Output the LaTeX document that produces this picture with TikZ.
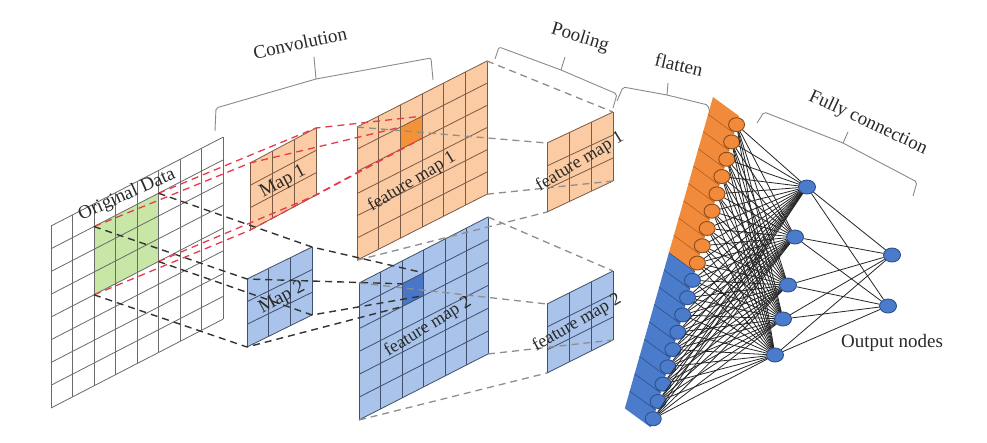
\documentclass[tikz,border=0pt]{standalone}
\usepackage{fontspec}
\setmainfont{Liberation Serif}
\usetikzlibrary{shapes.geometric}
\definecolor{oLight}{HTML}{FBCBA3}
\definecolor{oLine}{HTML}{7B5B45}
\definecolor{oDark}{HTML}{F39237}
\definecolor{bLight}{HTML}{A9C3EA}
\definecolor{bLine}{HTML}{3E506B}
\definecolor{bDark}{HTML}{4A76C8}
\definecolor{gFill}{HTML}{C8E6A6}
\definecolor{odLine}{HTML}{6A6A6A}
\definecolor{stripO}{HTML}{F28A3C}
\definecolor{stripB}{HTML}{4A7CCB}
\definecolor{stripOL}{HTML}{B0601E}
\definecolor{stripBL}{HTML}{2E4F8A}
\definecolor{redD}{HTML}{E83A4C}
\definecolor{blkD}{HTML}{333333}
\definecolor{grayD}{HTML}{8E8E8E}
\definecolor{braceC}{HTML}{8A8A8A}
\definecolor{txt}{HTML}{2A2A2A}
\definecolor{oBorder}{HTML}{8A4A1A}
\definecolor{bBorder}{HTML}{2F4F8F}
\newcommand\gridplane[9]{%
\begin{scope}[shift={#2},x={#3},y={#4}]
 \fill[#7] (0,0) -- (#5,0) -- (#5,#6) -- (0,#6) -- cycle;
 #9
 \foreach \k in {0,...,#5} \draw[#8,line width=0.8pt] (\k,0) -- (\k,#6);
 \foreach \k in {0,...,#6} \draw[#8,line width=0.8pt] (0,\k) -- (#5,\k);
 \coordinate (#1-tl) at (0,0); \coordinate (#1-tr) at (#5,0);
 \coordinate (#1-bl) at (0,#6); \coordinate (#1-br) at (#5,#6);
\end{scope}}
\begin{document}
\begin{tikzpicture}[x=1pt,y=-1pt,
  lbl/.style={text=txt,font=\fontsize{19}{22}\selectfont,inner sep=0pt},
  plbl/.style={text=txt,font=\fontsize{18}{21}\selectfont,inner sep=0pt},
  brc/.style={draw=braceC,line width=0.9pt,rounded corners=2pt},
  redd/.style={draw=redD,line width=1.3pt,dash pattern=on 7pt off 5pt},
  blkd/.style={draw=blkD,line width=1.4pt,dash pattern=on 7pt off 5pt},
  grayd/.style={draw=grayD,line width=1.3pt,dash pattern=on 7pt off 5pt},
  ocirc/.style={ellipse,minimum width=16pt,minimum height=14pt,inner sep=0pt,fill=stripO,draw=oBorder,line width=0.9pt},
  bcirc/.style={ellipse,minimum width=16pt,minimum height=14pt,inner sep=0pt,fill=stripB,draw=bBorder,line width=0.9pt},
  bnode/.style={ellipse,minimum width=17pt,minimum height=14pt,inner sep=0pt,fill=stripB,draw=bBorder,line width=0.9pt},
  nn/.style={draw=black!85,line width=0.8pt}]
\useasboundingbox (0,0) rectangle (987,442);
\fill[white] (0,0) rectangle (987,442);

% original data
\gridplane{od}{(51,226)}{(21.5pt,11.1pt)}{(0pt,-22.75pt)}{8}{8}{white}{odLine}{%
 \fill[gFill] (2,1) -- (5,1) -- (5,4) -- (2,4) -- cycle;
 \coordinate (gr-tl) at (2,1); \coordinate (gr-tr) at (5,1);
 \coordinate (gr-bl) at (2,4); \coordinate (gr-br) at (5,4);}
% kernels
\gridplane{mA}{(250,163)}{(22pt,11.67pt)}{(0pt,-22.4pt)}{3}{3}{oLight}{oLine}{}
\gridplane{mB}{(247,279)}{(21.67pt,10.67pt)}{(0pt,-22.67pt)}{3}{3}{bLight}{bLine}{}
% feature maps
\gridplane{fmA}{(357,127)}{(21.67pt,11pt)}{(0pt,-22.2pt)}{6}{6}{oLight}{oLine}{%
 \fill[oDark] (2,1) -- (3,1) -- (3,2) -- (2,2) -- cycle;
 \coordinate (cA-tl) at (2,1); \coordinate (cA-tr) at (3,1);
 \coordinate (cA-bl) at (2,2); \coordinate (cA-br) at (3,2);}
\gridplane{fmB}{(359,283)}{(21.5pt,11pt)}{(0pt,-22.83pt)}{6}{6}{bLight}{bLine}{%
 \fill[bDark] (2,1) -- (3,1) -- (3,2) -- (2,2) -- cycle;
 \coordinate (cB-tl) at (2,1); \coordinate (cB-tr) at (3,1);
 \coordinate (cB-bl) at (2,2); \coordinate (cB-br) at (3,2);}
% pooled maps
\gridplane{plA}{(547,143)}{(22pt,10.33pt)}{(0pt,-23pt)}{3}{3}{oLight}{oLine}{}
\gridplane{plB}{(547,304)}{(22pt,11pt)}{(0pt,-23pt)}{3}{3}{bLight}{bLine}{}

% dashed projection lines
\foreach \c in {tl,tr,bl,br}{
  \draw[redd] (gr-\c) -- (mA-\c) -- (cA-\c);
  \draw[blkd] (gr-\c) -- (mB-\c) -- (cB-\c);
  \draw[grayd] (fmA-\c) -- (plA-\c);
  \draw[grayd] (fmB-\c) -- (plB-\c);
}

% plane labels
\node[lbl,rotate=24] (tod) at (127,195) {Original Data};
\node[lbl,rotate=28] (tmA) at (283,182) {Map 1};
\node[lbl,rotate=28] (tmB) at (282,298) {Map 2};
\node[plbl,rotate=31] (tfA) at (412,182) {feature map 1};
\node[plbl,rotate=32] (tfB) at (428,327) {feature map 2};
\node[plbl,rotate=31] (tpA) at (580,162) {feature map 1};
\node[plbl,rotate=30] (tpB) at (577,323) {feature map 2};

% flatten strip
\begin{scope}[shift={(713,97)},x={(26pt,-19pt)},y={(-4.9pt,-17.3pt)}]
 \fill[stripO] (0,0) -- (1,0) -- (1,9) -- (0,9) -- cycle;
 \fill[stripB] (0,9) -- (1,9) -- (1,18) -- (0,18) -- cycle;
 \foreach \k in {1,...,8} \draw[stripOL,line width=0.6pt] (0,\k) -- (1,\k);
 \foreach \k in {9,...,17} \draw[stripBL,line width=0.6pt] (0,\k) -- (1,\k);
 \foreach \k in {1,...,9} \node[ocirc] (fc\k) at (1,\k-0.5) {};
 \foreach \k in {10,...,18} \node[bcirc] (fc\k) at (1,\k-0.5) {};
\end{scope}

% hidden and output nodes
\node[bnode] (h1) at (807,187) {};
\node[bnode] (h2) at (795,237) {};
\node[bnode] (h3) at (788,285) {};
\node[bnode] (h4) at (783,319) {};
\node[bnode] (h5) at (775,355) {};
\node[bnode] (o1) at (892,255) {};
\node[bnode] (o2) at (888,306) {};
\foreach \a in {1,...,18}{\foreach \b in {1,...,5}{\draw[nn] (fc\a) -- (h\b);}}
\foreach \b in {1,...,5}{\draw[nn] (h\b) -- (o1); \draw[nn] (h\b) -- (o2);}

% braces
\draw[brc] (215,131) -- (216,108) -- (316,79) -- (431,58) -- (433,80);
\draw[brc] (316,79) -- (314,57);
\draw[brc] (495,59) -- (499,47) -- (561,70) -- (617,94) -- (613,108);
\draw[brc] (561,70) -- (565,57);
\draw[brc] (617,101) -- (623,87) -- (667,95) -- (708,105) -- (710,113);
\draw[brc] (667,95) -- (668,83);
\draw[brc] (757,123) -- (764,112) -- (843,143) -- (917,182) -- (913,196);
\draw[brc] (843,143) -- (848,132);

% headings
\node[lbl,rotate=12] (tconv) at (300,43) {Convolution};
\node[lbl,rotate=-17] (tpool) at (580,38) {Pooling};
\node[lbl,rotate=-13] (tflat) at (679,65) {flatten};
\node[lbl,rotate=-25] (tfc) at (868,123) {Fully connection};
\node[lbl] (tout) at (892,343) {Output nodes};
\end{tikzpicture}
\end{document}
